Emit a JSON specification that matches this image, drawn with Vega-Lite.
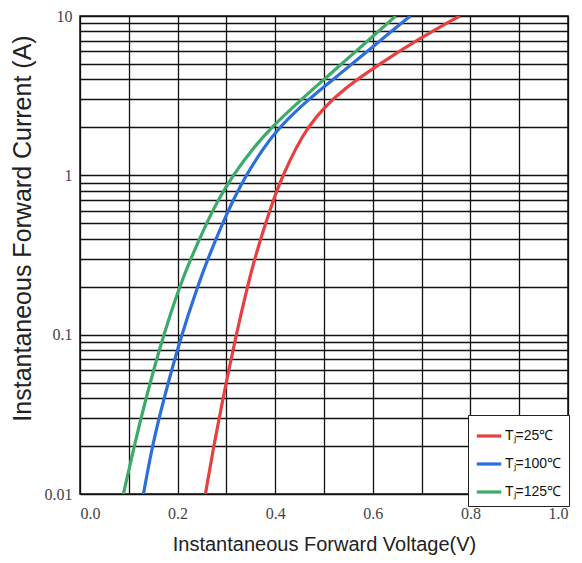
{
  "$schema": "https://vega.github.io/schema/vega-lite/v6.json",
  "autosize": "none",
  "width": 488,
  "height": 478,
  "padding": {"left": 80, "top": 16, "right": 14, "bottom": 69},
  "background": "white",
  "config": {
    "view": {"stroke": "#111", "strokeWidth": 1.5},
    "axis": {"gridColor": "#111", "gridOpacity": 1, "gridWidth": 1.3, "domain": false, "ticks": false}
  },
  "data": {"values": [
    {"V": 0.257, "I": 0.01, "s": "25"},
    {"V": 0.274, "I": 0.02, "s": "25"},
    {"V": 0.293, "I": 0.04, "s": "25"},
    {"V": 0.32, "I": 0.1, "s": "25"},
    {"V": 0.343, "I": 0.2, "s": "25"},
    {"V": 0.358, "I": 0.3, "s": "25"},
    {"V": 0.38, "I": 0.5, "s": "25"},
    {"V": 0.403, "I": 0.8, "s": "25"},
    {"V": 0.416, "I": 1, "s": "25"},
    {"V": 0.443, "I": 1.5, "s": "25"},
    {"V": 0.467, "I": 2, "s": "25"},
    {"V": 0.502, "I": 2.71, "s": "25"},
    {"V": 0.542, "I": 3.5, "s": "25"},
    {"V": 0.6, "I": 4.7, "s": "25"},
    {"V": 0.698, "I": 7.3, "s": "25"},
    {"V": 0.778, "I": 10, "s": "25"},
    {"V": 0.13, "I": 0.01, "s": "100"},
    {"V": 0.148, "I": 0.02, "s": "100"},
    {"V": 0.172, "I": 0.04, "s": "100"},
    {"V": 0.208, "I": 0.1, "s": "100"},
    {"V": 0.241, "I": 0.2, "s": "100"},
    {"V": 0.262, "I": 0.3, "s": "100"},
    {"V": 0.292, "I": 0.5, "s": "100"},
    {"V": 0.314, "I": 0.7, "s": "100"},
    {"V": 0.34, "I": 1, "s": "100"},
    {"V": 0.377, "I": 1.5, "s": "100"},
    {"V": 0.408, "I": 2, "s": "100"},
    {"V": 0.468, "I": 3, "s": "100"},
    {"V": 0.519, "I": 4, "s": "100"},
    {"V": 0.557, "I": 5, "s": "100"},
    {"V": 0.615, "I": 7, "s": "100"},
    {"V": 0.677, "I": 10, "s": "100"},
    {"V": 0.089, "I": 0.01, "s": "125"},
    {"V": 0.111, "I": 0.02, "s": "125"},
    {"V": 0.135, "I": 0.04, "s": "125"},
    {"V": 0.171, "I": 0.1, "s": "125"},
    {"V": 0.204, "I": 0.2, "s": "125"},
    {"V": 0.227, "I": 0.3, "s": "125"},
    {"V": 0.259, "I": 0.5, "s": "125"},
    {"V": 0.283, "I": 0.7, "s": "125"},
    {"V": 0.313, "I": 1, "s": "125"},
    {"V": 0.356, "I": 1.5, "s": "125"},
    {"V": 0.392, "I": 2, "s": "125"},
    {"V": 0.454, "I": 3, "s": "125"},
    {"V": 0.5, "I": 4, "s": "125"},
    {"V": 0.536, "I": 5, "s": "125"},
    {"V": 0.59, "I": 7, "s": "125"},
    {"V": 0.647, "I": 10, "s": "125"}
  ]},
  "mark": {"type": "line", "strokeWidth": 3.2, "interpolate": "basis", "clip": true},
  "encoding": {
    "x": {
      "field": "V", "type": "quantitative",
      "scale": {"domain": [0, 1], "nice": false},
      "axis": {
        "values": [0, 0.1, 0.2, 0.3, 0.4, 0.5, 0.6, 0.7, 0.8, 0.9, 1.0],
        "labelExpr": "indexof([0, 0.2, 0.4, 0.6, 0.8, 1], datum.value) >= 0 ? format(datum.value, '.1f') : ''",
        "labelFont": "Liberation Serif", "labelFontSize": 16, "labelColor": "#444", "labelPadding": 11,
        "title": "Instantaneous Forward Voltage(V)",
        "titleFont": "Liberation Sans", "titleFontSize": 20, "titleFontWeight": "normal", "titleColor": "#222", "titlePadding": 13
      }
    },
    "y": {
      "field": "I", "type": "quantitative",
      "scale": {"type": "log", "domain": [0.01, 10], "nice": false},
      "axis": {
        "values": [0.01, 0.02, 0.03, 0.04, 0.05, 0.06, 0.07, 0.08, 0.09, 0.1, 0.2, 0.3, 0.4, 0.5, 0.6, 0.7, 0.8, 0.9, 1, 2, 3, 4, 5, 6, 7, 8, 9, 10],
        "labelExpr": "indexof([0.01, 0.1, 1, 10], datum.value) >= 0 ? format(datum.value, '~g') : ''",
        "labelFont": "Liberation Serif", "labelFontSize": 16, "labelColor": "#444", "labelPadding": 8,
        "title": "Instantaneous Forward Current (A)",
        "titleFont": "Liberation Sans", "titleFontSize": 25, "titleFontWeight": "normal", "titleColor": "#222", "titlePadding": 9,
        "titleY": 212
      }
    },
    "color": {
      "field": "s", "type": "nominal",
      "scale": {"domain": ["25", "100", "125"], "range": ["#e8403f", "#2a6fdc", "#3caa68"]},
      "legend": {
        "orient": "none", "legendX": 388, "legendY": 399,
        "title": null,
        "labelExpr": "'Tⱼ=' + datum.label + '℃'",
        "symbolType": "stroke", "symbolSize": 600, "symbolStrokeWidth": 3.2,
        "labelFont": "Liberation Sans", "labelFontSize": 14, "labelColor": "#111",
        "rowPadding": 7, "padding": 7, "strokeColor": "#222", "fillColor": "white",
        "labelOffset": 2
      }
    }
  }
}
